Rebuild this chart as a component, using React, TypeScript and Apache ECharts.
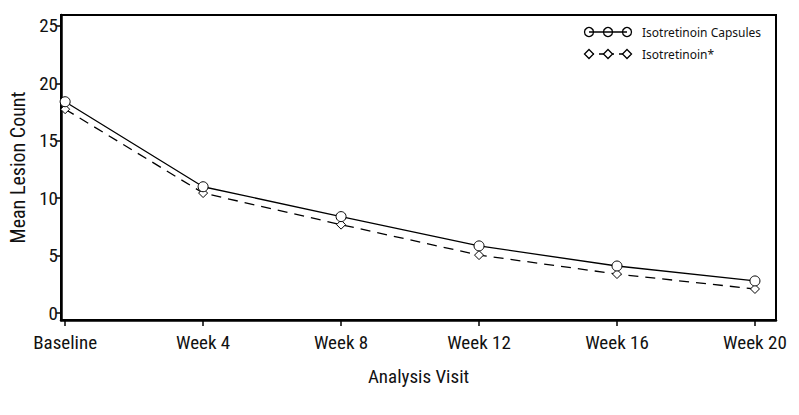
import React, { useEffect, useRef } from "react";
import * as echarts from "echarts";

const categories = ["Baseline", "Week 4", "Week 8", "Week 12", "Week 16", "Week 20"];
const weeks = [0, 4, 8, 12, 16, 20];
const capsules = [18.4, 11.0, 8.4, 5.85, 4.1, 2.8];
const reference = [17.75, 10.45, 7.7, 5.05, 3.4, 2.1];
const yTicks = [0, 5, 10, 15, 20, 25];
const seriesNames = ["Isotretinoin Capsules", "Isotretinoin*"];

const NARROW = "'Liberation Sans Narrow', 'Roboto Condensed', 'DejaVu Sans Condensed', 'Arial Narrow', sans-serif";

export default function App() {
  const ref = useRef<HTMLDivElement>(null);
  useEffect(() => {
    if (!ref.current) return;
    const chart = echarts.init(ref.current, null, { renderer: "svg" });
    const lx = 589, lx2 = 627, lm = 608;
    const r1 = 32, r2 = 54;
    chart.setOption({
      animation: false,
      backgroundColor: "#fff",
      grid: { left: 60, right: 23, top: 15, bottom: 95, show: true, borderColor: "#000", borderWidth: 2, backgroundColor: "transparent" },
      xAxis: {
        type: "value",
        min: -0.12,
        max: 20.61,
        splitLine: { show: false },
        axisLine: { show: true, onZero: false, lineStyle: { color: "#000", width: 2.5 } },
        axisTick: { show: true, length: 6, customValues: weeks, lineStyle: { color: "#000", width: 1.5 } },
        axisLabel: {
          customValues: weeks,
          margin: 13,
          fontSize: 19,
          color: "#111",
          fontFamily: NARROW,
          formatter: (v: number) => categories[weeks.indexOf(Math.round(v))] ?? "",
        },
        name: "Analysis Visit",
        nameLocation: "middle",
        nameGap: 47,
        nameTextStyle: { fontSize: 19, color: "#111", fontFamily: NARROW },
      },
      yAxis: {
        type: "value",
        min: -0.6,
        max: 25.95,
        splitLine: { show: false },
        axisLine: { show: true, onZero: false, lineStyle: { color: "#000", width: 2.5 } },
        axisTick: { show: true, length: 5, customValues: yTicks, lineStyle: { color: "#000", width: 1.5 } },
        axisLabel: { customValues: yTicks, margin: 3, fontSize: 19, color: "#111", fontFamily: NARROW },
        name: "Mean Lesion Count",
        nameLocation: "middle",
        nameGap: 33,
        nameTextStyle: { fontSize: 20, color: "#111", fontFamily: NARROW },
      },
      series: [
        {
          name: seriesNames[0],
          type: "line",
          data: weeks.map((w, i) => [w, capsules[i]]),
          symbol: "circle",
          symbolSize: 10,
          itemStyle: { color: "#fff", borderColor: "#000", borderWidth: 1 },
          lineStyle: { color: "#000", width: 1.3, type: "solid" },
          z: 3,
        },
        {
          name: seriesNames[1],
          type: "line",
          data: weeks.map((w, i) => [w, reference[i]]),
          symbol: "diamond",
          symbolSize: 9,
          itemStyle: { color: "#fff", borderColor: "#000", borderWidth: 1 },
          lineStyle: { color: "#000", width: 1.3, type: [10, 7] },
          z: 2,
        },
      ],
      graphic: [
        { type: "line", shape: { x1: lx, y1: r1, x2: lx2, y2: r1 }, style: { stroke: "#000", lineWidth: 1.3 } },
        ...[lx, lm, lx2].map((x) => ({ type: "circle", shape: { cx: x, cy: r1, r: 4.5 }, style: { fill: "none", stroke: "#000", lineWidth: 1.3 } })),
        { type: "text", x: 642, y: r1, style: { text: seriesNames[0], fontSize: 12, fontFamily: "'Noto Sans', sans-serif", fill: "#111", verticalAlign: "middle" } },
        { type: "line", shape: { x1: lx, y1: r2, x2: lx2, y2: r2 }, style: { stroke: "#000", lineWidth: 1.3, lineDash: [5, 5] } },
        ...[lx, lm, lx2].map((x) => ({
          type: "polygon",
          shape: { points: [[x, r2 - 4.5], [x + 4.5, r2], [x, r2 + 4.5], [x - 4.5, r2]] },
          style: { fill: "#fff", stroke: "#000", lineWidth: 1.3 },
        })),
        { type: "text", x: 642, y: r2, style: { text: seriesNames[1], fontSize: 12, fontFamily: "'Noto Sans', sans-serif", fill: "#111", verticalAlign: "middle" } },
      ],
    });
    return () => chart.dispose();
  }, []);
  return <div ref={ref} style={{ width: 799, height: 415, position: "absolute", left: 0, top: 0 }} />;
}
